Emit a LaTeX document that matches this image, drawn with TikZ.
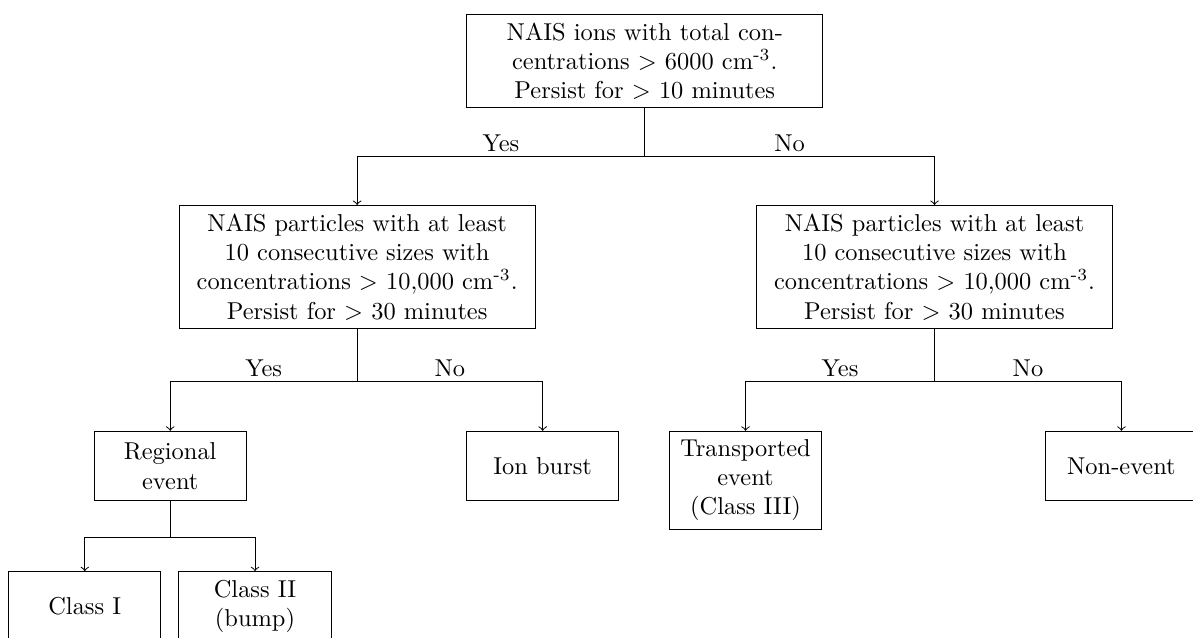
\documentclass[tikz,border=0pt]{standalone}
\usetikzlibrary{positioning}

\tikzset{
  box/.style={draw, align=center, anchor=north, minimum height=1cm},
  testbox/.style={box, minimum width=5.12cm},
  leafbox/.style={box, minimum width=2.19cm},
  branch/.style={->},
  answer/.style={above, inner sep=1.8pt},
}

\begin{document}
\begin{tikzpicture}
  \useasboundingbox (0,0) rectangle (17.17,-9.17);

  % decision boxes
  \node[testbox] (ions) at (9.28,-0.2)
    {NAIS ions with total con-\\centrations $>$ 6000 cm\textsuperscript{-3}.\\Persist for $>$ 10 minutes};
  \node[testbox] (partL) at (5.14,-2.95)
    {NAIS particles with at least\\10 consecutive sizes with\\concentrations $>$ 10,000 cm\textsuperscript{-3}.\\Persist for $>$ 30 minutes};
  \node[testbox] (partR) at (13.45,-2.95)
    {NAIS particles with at least\\10 consecutive sizes with\\concentrations $>$ 10,000 cm\textsuperscript{-3}.\\Persist for $>$ 30 minutes};

  % outcomes
  \node[leafbox] (regional) at (2.45,-6.2) {Regional\\event};
  \node[leafbox] (burst) at (7.81,-6.2) {Ion burst};
  \node[leafbox] (transp) at (10.73,-6.2) {Transported\\event\\(Class III)};
  \node[leafbox] (nonevent) at (16.14,-6.2) {Non-event};
  \node[leafbox] (classI) at (1.22,-8.22) {Class I};
  \node[leafbox] (classII) at (3.67,-8.22) {Class II\\(bump)};

  % junctions
  \coordinate (jTop) at (9.28,-2.25);
  \coordinate (jL) at (5.14,-5.49);
  \coordinate (jR) at (13.45,-5.49);
  \coordinate (jReg) at (2.45,-7.73);

  \draw (ions) -- (jTop);
  \draw[branch] (jTop) -| node[pos=0.25, answer] {Yes} (partL.north);
  \draw[branch] (jTop) -| node[pos=0.25, answer] {No} (partR.north);

  \draw (partL) -- (jL);
  \draw[branch] (jL) -| node[pos=0.25, answer] {Yes} (regional.north);
  \draw[branch] (jL) -| node[pos=0.25, answer] {No} (burst.north);

  \draw (partR) -- (jR);
  \draw[branch] (jR) -| node[pos=0.25, answer] {Yes} (transp.north);
  \draw[branch] (jR) -| node[pos=0.25, answer] {No} (nonevent.north);

  \draw (regional) -- (jReg);
  \draw[branch] (jReg) -| (classI.north);
  \draw[branch] (jReg) -| (classII.north);
\end{tikzpicture}
\end{document}
